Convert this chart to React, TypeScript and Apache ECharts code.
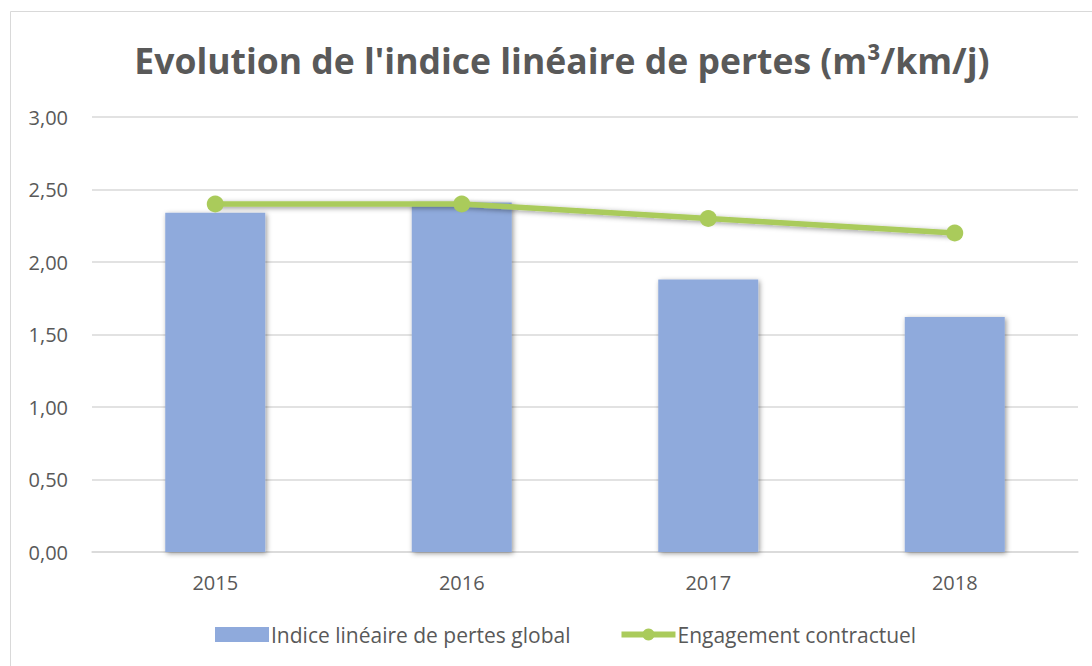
import React, { useEffect, useRef } from "react";
import * as echarts from "echarts";

const categories = ["2015", "2016", "2017", "2018"];
const indiceValues = [2.34, 2.41, 1.88, 1.62];
const engagementValues = [2.4, 2.4, 2.3, 2.2];
const yTicks = { min: 0, max: 3, interval: 0.5 };
const titleText = "Evolution de l'indice linéaire de pertes (m³/km/j)";
const seriesNames = ["Indice linéaire de pertes global", "Engagement contractuel"];

const FONT = "'Open Sans', 'Noto Sans', sans-serif";
const TEXT = "#595959";
const GREEN = "#AACB5B";

export default function App() {
  const ref = useRef<HTMLDivElement>(null);
  useEffect(() => {
    if (!ref.current) return;
    const chart = echarts.init(ref.current, null, { renderer: "svg" });
    chart.setOption({
      animation: false,
      backgroundColor: "#ffffff",
      textStyle: { fontFamily: FONT, color: TEXT },
      title: {
        text: titleText,
        left: 557,
        textAlign: "center",
        top: 37,
        textStyle: { fontFamily: FONT, fontSize: 35.5, fontWeight: "bold", color: TEXT },
      },
      graphic: [
        {
          type: "rect",
          shape: { x: 10.5, y: 11.5, width: 1200, height: 800 },
          style: { fill: "none", stroke: "#D9D9D9", lineWidth: 1 },
          silent: true,
          z: -1,
        },
      ],
      legend: {
        top: 619,
        left: 210,
        itemWidth: 54,
        itemHeight: 15,
        itemGap: 48,
        textStyle: { fontFamily: FONT, fontSize: 21, color: TEXT, padding: [0, 0, 0, -3] },
        data: [
          { name: seriesNames[0], icon: "rect" },
          { name: seriesNames[1], lineStyle: { width: 6, color: GREEN } },
        ],
      },
      grid: { left: 92, right: 14, top: 117, bottom: 114, containLabel: false },
      xAxis: {
        type: "category",
        data: categories,
        axisTick: { show: false },
        axisLine: { lineStyle: { color: "#D9D9D9", width: 1.5 } },
        axisLabel: { fontFamily: FONT, fontSize: 20, color: TEXT, margin: 20 },
      },
      yAxis: {
        type: "value",
        min: yTicks.min,
        max: yTicks.max,
        interval: yTicks.interval,
        axisLine: { show: false },
        axisTick: { show: false },
        splitLine: { lineStyle: { color: "#D9D9D9", width: 1.5 } },
        axisLabel: {
          fontFamily: FONT,
          fontSize: 20,
          color: TEXT,
          margin: 24,
          formatter: (v: number) => v.toFixed(2).replace(".", ","),
        },
      },
      series: [
        {
          name: seriesNames[0],
          type: "bar",
          data: indiceValues,
          barWidth: 100,
          itemStyle: {
            color: "#8FAADC",
            shadowBlur: 5,
            shadowColor: "rgba(0,0,0,0.4)",
            shadowOffsetX: 1.5,
            shadowOffsetY: 1.5,
          },
        },
        {
          name: seriesNames[1],
          type: "line",
          data: engagementValues,
          symbol: "circle",
          symbolSize: 17,
          itemStyle: { color: GREEN },
          lineStyle: {
            color: GREEN,
            width: 5.5,
            shadowBlur: 5,
            shadowColor: "rgba(0,0,0,0.4)",
            shadowOffsetX: 1.5,
            shadowOffsetY: 1.5,
          },
          z: 3,
        },
      ],
    });
    return () => chart.dispose();
  }, []);
  return (
    <div
      ref={ref}
      style={{ position: "fixed", left: 0, top: 0, width: 1092, height: 666 }}
    />
  );
}
